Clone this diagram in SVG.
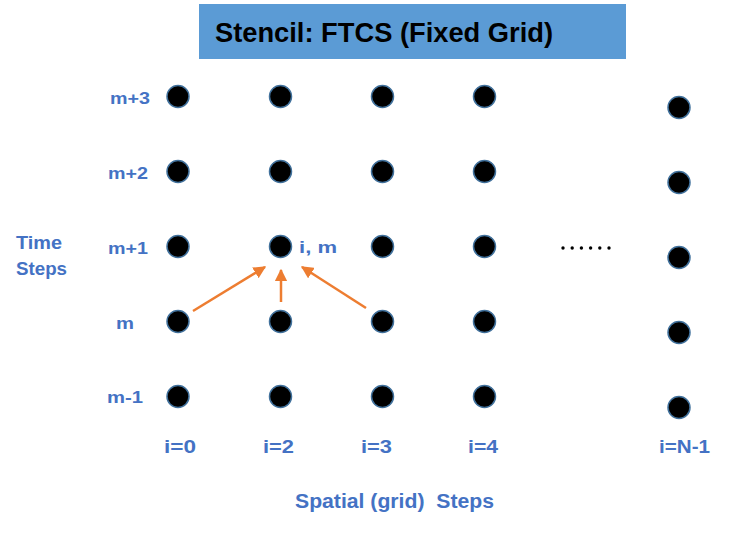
<svg xmlns="http://www.w3.org/2000/svg" width="736" height="533" viewBox="0 0 736 533">
<defs>
<style>
.dot{fill:#000;stroke:#41719C;stroke-width:1.5}
.lbl{font-family:"Liberation Sans",Arial,sans-serif;font-weight:bold;fill:#4472C4}
.arr{stroke:#ED7D31;stroke-width:2.5;fill:none;marker-end:url(#ah)}
</style>
<marker id="ah" viewBox="0 0 10 10" refX="9" refY="5" markerWidth="5" markerHeight="5" orient="auto" markerUnits="strokeWidth">
<path d="M0,0 L10,5 L0,10 z" fill="#ED7D31"/>
</marker>
</defs>
<rect width="736" height="533" fill="#fff"/>
<g id="title">
<rect x="199" y="4" width="427" height="55" fill="#5B9BD5"/>
<text x="215" y="42" font-family="Liberation Sans,Arial,sans-serif" font-weight="bold" font-size="27" fill="#000" textLength="338" lengthAdjust="spacingAndGlyphs">Stencil: FTCS (Fixed Grid)</text>
</g>
<g id="row-labels">
<text class="lbl" x="110" y="104" font-size="17" textLength="40" lengthAdjust="spacingAndGlyphs">m+3</text>
<text class="lbl" x="108" y="179" font-size="17" textLength="40" lengthAdjust="spacingAndGlyphs">m+2</text>
<text class="lbl" x="108" y="254" font-size="17" textLength="40" lengthAdjust="spacingAndGlyphs">m+1</text>
<text class="lbl" x="116" y="329" font-size="17" textLength="18" lengthAdjust="spacingAndGlyphs">m</text>
<text class="lbl" x="107" y="403" font-size="17" textLength="36" lengthAdjust="spacingAndGlyphs">m-1</text>
<text class="lbl" x="16" y="249" font-size="18" textLength="46" lengthAdjust="spacingAndGlyphs">Time</text>
<text class="lbl" x="16" y="275" font-size="18" textLength="51" lengthAdjust="spacingAndGlyphs">Steps</text>
</g>
<g id="col-labels">
<text class="lbl" x="164" y="453" font-size="18" textLength="32" lengthAdjust="spacingAndGlyphs">i=0</text>
<text class="lbl" x="263" y="453" font-size="18" textLength="31" lengthAdjust="spacingAndGlyphs">i=2</text>
<text class="lbl" x="361" y="453" font-size="18" textLength="31" lengthAdjust="spacingAndGlyphs">i=3</text>
<text class="lbl" x="468" y="453" font-size="18" textLength="30" lengthAdjust="spacingAndGlyphs">i=4</text>
<text class="lbl" x="659" y="453" font-size="18" textLength="51" lengthAdjust="spacingAndGlyphs">i=N-1</text>
<text class="lbl" x="295" y="508" font-size="20" textLength="199" lengthAdjust="spacingAndGlyphs" style="white-space:pre">Spatial (grid)  Steps</text>
<text class="lbl" x="299" y="253" font-size="17" textLength="38" lengthAdjust="spacingAndGlyphs">i, m</text>
</g>
<g id="nodes">
<circle class="dot" cx="178" cy="96.5" r="11"/><circle class="dot" cx="280.5" cy="96.5" r="11"/><circle class="dot" cx="382.5" cy="96.5" r="11"/><circle class="dot" cx="484.5" cy="96.5" r="11"/>
<circle class="dot" cx="178" cy="171.5" r="11"/><circle class="dot" cx="280.5" cy="171.5" r="11"/><circle class="dot" cx="382.5" cy="171.5" r="11"/><circle class="dot" cx="484.5" cy="171.5" r="11"/>
<circle class="dot" cx="178" cy="246.5" r="11"/><circle class="dot" cx="280.5" cy="246.5" r="11"/><circle class="dot" cx="382.5" cy="246.5" r="11"/><circle class="dot" cx="484.5" cy="246.5" r="11"/>
<circle class="dot" cx="178" cy="321.5" r="11"/><circle class="dot" cx="280.5" cy="321.5" r="11"/><circle class="dot" cx="382.5" cy="321.5" r="11"/><circle class="dot" cx="484.5" cy="321.5" r="11"/>
<circle class="dot" cx="178" cy="396.5" r="11"/><circle class="dot" cx="280.5" cy="396.5" r="11"/><circle class="dot" cx="382.5" cy="396.5" r="11"/><circle class="dot" cx="484.5" cy="396.5" r="11"/>
<circle class="dot" cx="679" cy="107.5" r="11"/><circle class="dot" cx="679" cy="182.5" r="11"/><circle class="dot" cx="679" cy="257.5" r="11"/><circle class="dot" cx="679" cy="332.5" r="11"/><circle class="dot" cx="679" cy="407.5" r="11"/>
</g>
<g id="ellipsis">
<circle cx="563" cy="248" r="1.7"/><circle cx="572.2" cy="248" r="1.7"/><circle cx="581.4" cy="248" r="1.7"/><circle cx="590.6" cy="248" r="1.7"/><circle cx="599.8" cy="248" r="1.7"/><circle cx="609" cy="248" r="1.7"/>
</g>
<g id="connectors">
<line class="arr" x1="193" y1="311" x2="265" y2="267"/>
<line class="arr" x1="281" y1="302" x2="281" y2="270"/>
<line class="arr" x1="366" y1="308" x2="302" y2="267"/>
</g>
</svg>
